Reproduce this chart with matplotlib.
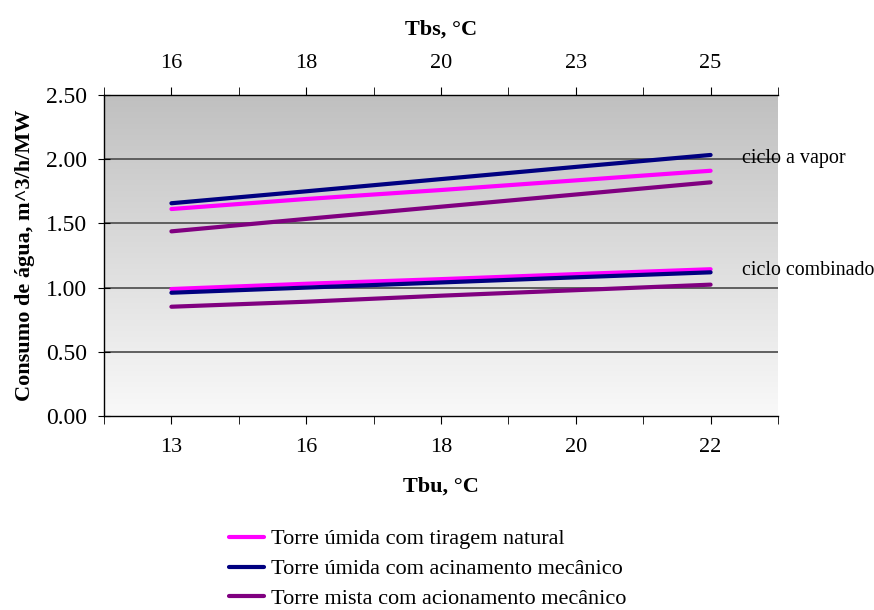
import numpy as np
import matplotlib
matplotlib.use("Agg")
import matplotlib.pyplot as plt
from matplotlib.ticker import FixedLocator, FormatStrFormatter
from matplotlib.colors import LinearSegmentedColormap

plt.rcParams['font.family'] = ['Liberation Serif', 'DejaVu Serif']

tbu = ["13", "16", "18", "20", "22"]
tbs = ["16", "18", "20", "23", "25"]

# ciclo a vapor
vap_natural = [1.612, 1.69, 1.76, 1.835, 1.910]
vap_mec = [1.657, 1.75, 1.845, 1.94, 2.033]
vap_mista = [1.438, 1.535, 1.63, 1.725, 1.820]
# ciclo combinado
comb_natural = [0.989, 1.03, 1.066, 1.105, 1.143]
comb_mec = [0.960, 1.00, 1.04, 1.08, 1.119]
comb_mista = [0.851, 0.89, 0.937, 0.98, 1.023]

labels = ["Torre úmida com tiragem natural",
          "Torre úmida com acinamento mecânico",
          "Torre mista com acionamento mecânico"]
colors = ["#FF00FF", "#000080", "#800080"]

FS = 16

fig = plt.figure(figsize=(8.74, 6.10), dpi=100)
ax = fig.add_axes([104/874, 1-416/610, (778-104)/874, (416-95)/610])

x = np.arange(len(tbu))
ax.set_xlim(-0.5, len(tbu)-0.5)
ax.set_ylim(0, 2.5)

# gradient background
grad = np.linspace(0, 1, 256).reshape(-1, 1)
cmap = LinearSegmentedColormap.from_list("g", ["#f9f9f9", "#c0c0c0"])
ax.imshow(grad, aspect='auto', cmap=cmap, origin='lower',
          extent=[-0.5, len(tbu)-0.5, 0, 2.5], zorder=0)

for yv in [0.5, 1.0, 1.5, 2.0]:
    ax.axhline(yv, color="#555555", lw=1.3, zorder=1)

handles = []
for vals, c, lab in zip([vap_natural, vap_mec, vap_mista], colors, labels):
    h, = ax.plot(x, vals, color=c, lw=3, solid_capstyle='round', zorder=3, label=lab)
    handles.append(h)
for vals, c in zip([comb_natural, comb_mec, comb_mista], colors):
    ax.plot(x, vals, color=c, lw=3, solid_capstyle='round', zorder=3)

ax.spines['right'].set_visible(False)
ax.spines['top'].set_visible(False)
for s in ['left', 'bottom']:
    ax.spines[s].set_linewidth(1.0)

ax.set_yticks([0, 0.5, 1.0, 1.5, 2.0, 2.5])
ax.yaxis.set_major_formatter(FormatStrFormatter('%.2f'))
ax.tick_params(axis='y', direction='inout', length=8, labelsize=17, pad=8)

ax.set_xticks(x)
ax.set_xticklabels(tbu)
ax.xaxis.set_minor_locator(FixedLocator(np.arange(-0.5, len(tbu), 1.0)))
ax.tick_params(axis='x', which='both', direction='out', length=6, labelsize=FS, pad=10)

ax.set_xlabel("Tbu, °C", fontsize=FS, fontweight='bold', labelpad=14)
ax.set_ylabel("Consumo de água, m^3/h/MW", fontsize=FS, fontweight='bold', labelpad=8)

top = ax.secondary_xaxis('top')
top.set_xticks(x)
top.set_xticklabels(tbs)
top.xaxis.set_minor_locator(FixedLocator(np.arange(-0.5, len(tbu), 1.0)))
top.tick_params(axis='x', which='both', direction='out', length=6, labelsize=FS, pad=10)
top.set_xlabel("Tbs, °C", fontsize=FS, fontweight='bold', labelpad=14)
top.spines['top'].set_linewidth(1.0)

ax.text(4.23, vap_mec[-1] - 0.03, "ciclo a vapor", fontsize=14.5, va='center', ha='left', clip_on=False)
ax.text(4.23, comb_natural[-1] - 0.01, "ciclo combinado", fontsize=14.3, va='center', ha='left', clip_on=False)

fig.legend(handles=handles, loc='upper left', bbox_to_anchor=(220/874, 1-520/610),
           frameon=False, fontsize=FS, handlelength=1.6, handletextpad=0.3,
           labelspacing=0.42, borderaxespad=0)

fig.savefig("out.png", dpi=100)
